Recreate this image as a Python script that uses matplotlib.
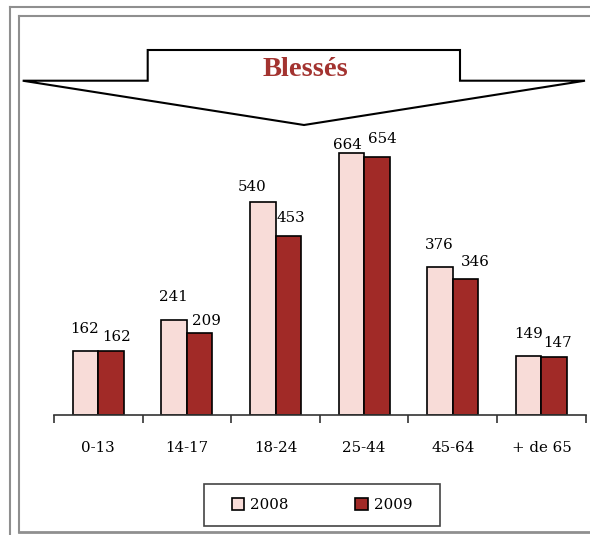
import numpy as np
import matplotlib
matplotlib.use('Agg')
import matplotlib.pyplot as plt
from matplotlib.patches import Polygon, Rectangle

# Data
categories = ['0-13', '14-17', '18-24', '25-44', '45-64', '+ de 65']
series_names = ['2008', '2009']
values_2008 = [162, 241, 540, 664, 376, 149]
values_2009 = [162, 209, 453, 654, 346, 147]

# label nudges in pixels (dx, height of label centre above bar top)
nudge_2008 = [(-1, 22), (-1, 23), (-11, 15), (-4, 8), (-1, 22), (0, 22)]
nudge_2009 = [(5, 14), (7, 12), (3, 18), (5, 18), (10, 17), (3, 14)]

col_2008 = '#F8DCD8'
col_2009 = '#A12A27'
title_col = '#A33330'

plt.rcParams['font.family'] = ['DejaVu Serif']
fs = 10.8

W, H = 590, 535
fig = plt.figure(figsize=(W / 100, H / 100), dpi=100)

# overlay in pixel coordinates for frame, arrow banner and legend box
ov = fig.add_axes([0, 0, 1, 1], zorder=0)
ov.set_xlim(0, W)
ov.set_ylim(H, 0)
ov.axis('off')

grey = '#8f8f8f'
ov.plot([10, 10], [7, H], color=grey, lw=1.5)
ov.plot([10, W], [7, 7], color=grey, lw=1.5)
ov.plot([19, 19], [16, 532], color=grey, lw=1.5)
ov.plot([19, W], [16, 16], color=grey, lw=1.5)
ov.plot([19, W], [532, 532], color=grey, lw=2)

arrow = Polygon([(22.7, 80.7), (147.7, 80.7), (147.7, 50), (460, 50),
                 (460, 80.7), (585, 80.7), (304, 125)],
                closed=True, facecolor='white', edgecolor='black', lw=1.5)
ov.add_patch(arrow)
ov.text(305, 70, 'Blessés', ha='center', va='center', color=title_col,
        fontsize=20.5, fontweight='bold', family='Liberation Serif')

ov.add_patch(Rectangle((204.4, 484.3), 235.6, 41.7, facecolor='white',
                       edgecolor='#444444', lw=1.2))

# chart axes: x from 54 to 585.7 px, baseline at 415 px, 0.3944 px per unit
ymax = 800
left = 54 / W
width = (585.7 - 54) / W
bottom = (H - 415) / H
height = ymax * 0.3944 / H
ax = fig.add_axes([left, bottom, width, height], zorder=1)
ax.patch.set_visible(False)

x = np.arange(len(categories))
w = 0.288
b1 = ax.bar(x - w / 2, values_2008, w, color=col_2008, edgecolor='black',
            linewidth=1.2, label=series_names[0])
b2 = ax.bar(x + w / 2, values_2009, w, color=col_2009, edgecolor='black',
            linewidth=1.2, label=series_names[1])

for xi, v, (dx, dy) in zip(x - w / 2, values_2008, nudge_2008):
    ax.annotate(str(v), (xi, v), xytext=(dx, dy), textcoords='offset pixels',
                ha='center', va='center', fontsize=fs)
for xi, v, (dx, dy) in zip(x + w / 2, values_2009, nudge_2009):
    ax.annotate(str(v), (xi, v), xytext=(dx, dy), textcoords='offset pixels',
                ha='center', va='center', fontsize=fs)

ax.set_xlim(-0.5, len(categories) - 0.5)
ax.set_ylim(0, ymax)
for s in ['top', 'right', 'left']:
    ax.spines[s].set_visible(False)
ax.spines['bottom'].set_color('#333333')
ax.spines['bottom'].set_linewidth(1.2)
ax.set_yticks([])
ax.set_xticks(x)
ax.set_xticklabels(categories, fontsize=fs)
ax.tick_params(axis='x', which='major', length=0, pad=19)
ax.set_xticks(np.arange(len(categories) + 1) - 0.5, minor=True)
ax.tick_params(axis='x', which='minor', length=6, width=1.2,
               color='#333333', direction='out')

leg = fig.legend(handles=[b1, b2], labels=series_names, loc='center',
                 bbox_to_anchor=(322 / W, (H - 505) / H), ncol=2,
                 frameon=False, fontsize=fs, handlelength=0.85,
                 handleheight=0.85, handletextpad=0.4, columnspacing=4.4)

fig.savefig('out.png', dpi=100)
